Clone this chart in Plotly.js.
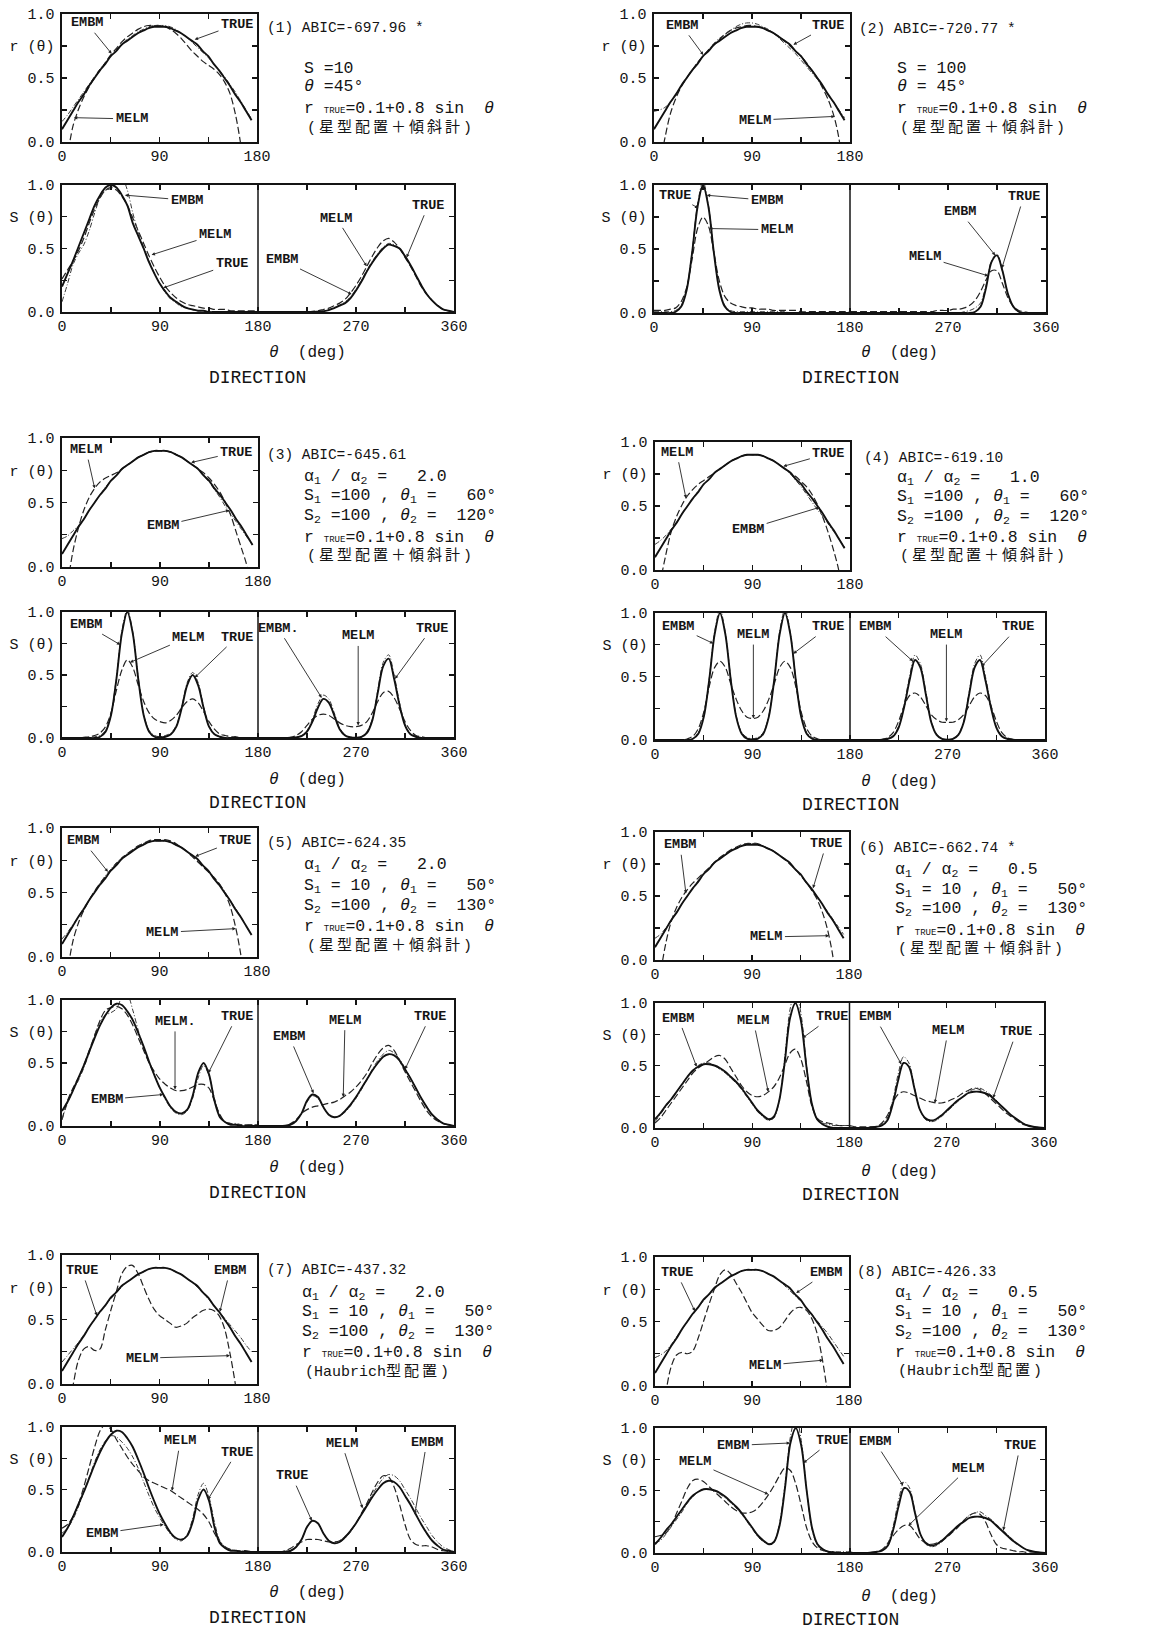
<!DOCTYPE html>
<html>
<head>
<meta charset="utf-8">
<script src="https://cdn.plot.ly/plotly-3.0.1.min.js"></script>
<style>
  html, body { margin: 0; padding: 0; background: #fff; }
  #chart { width: 1159px; height: 1631px; }
</style>
</head>
<body>
<div id="chart"></div>
<script>
// ---------------------------------------------------------------
// Direction angle grids (deg)
// ---------------------------------------------------------------
const TH_R  = [0,5,10,15,20,25,30,35,40,45,50,55,60,65,70,75,80,85,90,95,100,105,110,115,120,125,130,135,140,145,150,155,160,165,170,175];
const TH_SL = [0,5,10,15,20,25,30,35,40,45,50,55,60,65,70,75,80,85,90,95,100,105,110,115,120,125,130,135,140,145,150,155,160,165,170,175,180];
const TH_SR = [180,185,190,195,200,205,210,215,220,225,230,235,240,245,250,255,260,265,270,275,280,285,290,295,300,305,310,315,320,325,330,335,340,345,350,355,360];

// ---------------------------------------------------------------
// Reflection coefficient r(theta)
// ---------------------------------------------------------------
const R_TRUE  = [0.10,0.17,0.24,0.31,0.37,0.44,0.50,0.56,0.61,0.67, 0.71,0.76,0.79,0.82,0.85,0.87,0.89,0.90,0.90,0.90, 0.89,0.87,0.85,0.82,0.79,0.76,0.71,0.67,0.61,0.56, 0.50,0.44,0.37,0.31,0.24,0.17];
const R1_EMBM = [0.16,0.21,0.27,0.33,0.39,0.45,0.51,0.57,0.62,0.67, 0.72,0.76,0.80,0.83,0.86,0.88,0.90,0.91,0.91,0.91, 0.90,0.88,0.85,0.82,0.78,0.74,0.70,0.66,0.61,0.56, 0.51,0.45,0.39,0.32,0.25,0.18];
const R1_MELM = [-0.45,-0.12,0.12,0.25,0.35,0.43,0.50,0.56,0.62,0.68, 0.73,0.78,0.82,0.85,0.88,0.90,0.91,0.91,0.91,0.90, 0.88,0.85,0.81,0.76,0.71,0.67,0.63,0.60,0.57,0.53, 0.47,0.38,0.22,-0.02,-0.4,-0.9];
const R2_EMBM = [0.24,0.25,0.27,0.31,0.37,0.44,0.50,0.56,0.62,0.67, 0.72,0.77,0.81,0.84,0.87,0.90,0.92,0.93,0.93,0.92, 0.90,0.88,0.85,0.81,0.77,0.73,0.69,0.64,0.59,0.54, 0.49,0.43,0.37,0.31,0.25,0.19];
const R2_MELM = [-0.4,-0.2,0.03,0.22,0.34,0.43,0.50,0.56,0.62,0.67, 0.72,0.76,0.80,0.84,0.87,0.89,0.90,0.91,0.91,0.90, 0.89,0.87,0.85,0.82,0.79,0.75,0.71,0.67,0.62,0.56, 0.50,0.42,0.33,0.21,0.02,-0.35];
const R3_EMBM = [0.22,0.24,0.28,0.32,0.37,0.44,0.50,0.56,0.62,0.67, 0.71,0.76,0.79,0.82,0.85,0.87,0.89,0.90,0.90,0.90, 0.89,0.87,0.85,0.82,0.79,0.76,0.71,0.66,0.60,0.54, 0.47,0.41,0.35,0.29,0.23,0.17];
const R3_MELM = [-0.5,-0.15,0.12,0.30,0.44,0.54,0.61,0.66,0.69,0.71, 0.73,0.76,0.79,0.82,0.85,0.87,0.89,0.90,0.90,0.90, 0.89,0.87,0.85,0.82,0.79,0.76,0.73,0.69,0.64,0.58, 0.50,0.40,0.27,0.14,0.0,-0.4];
const R4_EMBM = [0.20,0.23,0.27,0.32,0.37,0.44,0.50,0.56,0.62,0.67, 0.71,0.76,0.79,0.82,0.85,0.87,0.89,0.90,0.90,0.90, 0.89,0.87,0.85,0.82,0.79,0.75,0.70,0.65,0.59,0.53, 0.47,0.42,0.36,0.30,0.24,0.18];
const R4_MELM = [-0.5,-0.1,0.12,0.30,0.42,0.51,0.58,0.63,0.67,0.70, 0.73,0.76,0.79,0.82,0.85,0.87,0.89,0.90,0.90,0.90, 0.89,0.87,0.85,0.82,0.79,0.76,0.73,0.69,0.65,0.59, 0.51,0.41,0.29,0.15,-0.02,-0.4];
const R5_EMBM = [0.14,0.19,0.25,0.31,0.38,0.44,0.51,0.57,0.63,0.68, 0.73,0.77,0.80,0.83,0.86,0.88,0.89,0.90,0.90,0.90, 0.89,0.87,0.85,0.82,0.79,0.75,0.71,0.67,0.62,0.57, 0.51,0.44,0.38,0.31,0.24,0.17];
const R5_MELM = [-0.45,-0.12,0.12,0.26,0.36,0.44,0.51,0.57,0.62,0.67, 0.72,0.76,0.80,0.83,0.86,0.88,0.90,0.91,0.91,0.91, 0.90,0.88,0.85,0.82,0.78,0.74,0.70,0.66,0.62,0.57, 0.50,0.40,0.24,0.02,-0.35,-0.8];
const R6_EMBM = [0.17,0.20,0.25,0.31,0.37,0.44,0.50,0.56,0.62,0.67, 0.71,0.76,0.79,0.82,0.85,0.87,0.89,0.91,0.91,0.91, 0.89,0.87,0.85,0.82,0.79,0.76,0.71,0.67,0.61,0.56, 0.50,0.44,0.38,0.32,0.26,0.20];
const R6_MELM = [-0.55,-0.12,0.13,0.30,0.41,0.49,0.55,0.60,0.64,0.68, 0.72,0.76,0.80,0.83,0.86,0.88,0.90,0.91,0.91,0.91, 0.89,0.87,0.85,0.82,0.79,0.75,0.71,0.66,0.61,0.55, 0.48,0.38,0.24,0.03,-0.35,-0.8];
const R7_EMBM = [0.17,0.22,0.27,0.32,0.38,0.44,0.50,0.56,0.61,0.66, 0.71,0.75,0.79,0.82,0.85,0.87,0.89,0.90,0.90,0.90, 0.89,0.87,0.85,0.82,0.79,0.75,0.71,0.66,0.61,0.56, 0.51,0.46,0.41,0.36,0.30,0.25];
const R7_MELM = [-0.5,-0.25,-0.02,0.18,0.27,0.29,0.26,0.27,0.42,0.57, 0.71,0.85,0.91,0.92,0.86,0.76,0.66,0.58,0.53,0.50, 0.47,0.44,0.45,0.47,0.51,0.54,0.57,0.58,0.57,0.53, 0.43,0.24,0.0,-0.3,-0.6,-0.9];
const R8_EMBM = [0.22,0.24,0.27,0.32,0.38,0.44,0.50,0.56,0.61,0.66, 0.71,0.75,0.79,0.82,0.85,0.87,0.89,0.90,0.90,0.90, 0.89,0.87,0.85,0.82,0.78,0.74,0.70,0.66,0.61,0.56, 0.51,0.46,0.41,0.35,0.29,0.23];
const R8_MELM = [-0.6,-0.3,-0.05,0.15,0.24,0.26,0.25,0.27,0.37,0.50, 0.63,0.75,0.86,0.90,0.87,0.80,0.73,0.65,0.57,0.52, 0.47,0.43,0.43,0.45,0.50,0.56,0.60,0.61,0.59,0.53, 0.42,0.22,-0.05,-0.4,-0.7,-1.0];

// ---------------------------------------------------------------
// Directional spectrum S(theta): _L = 0..180 deg, _R = 180..360 deg
// ---------------------------------------------------------------
const S1_TRUE_L = [0.20,0.30,0.40,0.51,0.62,0.73,0.84,0.92,0.98,1.00, 0.98,0.92,0.84,0.70,0.60,0.50,0.39,0.30,0.22,0.16, 0.11,0.08,0.05,0.03,0.02,0.01,0.01,0,0,0, 0,0,0,0,0,0,0];
const S1_TRUE_R = [0,0,0,0,0,0,0,0,0,0, 0,0.003,0.006,0.015,0.03,0.05,0.07,0.11,0.17,0.24, 0.32,0.39,0.45,0.50,0.53,0.52,0.50,0.44,0.37,0.29, 0.21,0.14,0.09,0.05,0.02,0.01,0];
const S1_EMBM_L = [0.08,0.22,0.37,0.46,0.53,0.64,0.78,0.90,0.96,0.97, 1.01,1.06,0.96,0.78,0.63,0.51,0.40,0.30,0.22,0.15, 0.10,0.07,0.04,0.03,0.02,0.01,0.01,0,0,0, 0,0,0,0,0,0,0];
const S1_EMBM_R = [0,0,0,0,0,0,0,0,0,0, 0,0.004,0.008,0.02,0.035,0.055,0.08,0.12,0.18,0.25, 0.33,0.40,0.46,0.51,0.54,0.53,0.50,0.44,0.37,0.29, 0.21,0.14,0.09,0.05,0.02,0.01,0];
const S1_MELM_L = [0.26,0.33,0.40,0.48,0.58,0.70,0.81,0.90,0.96,0.98, 0.96,0.91,0.84,0.74,0.64,0.54,0.44,0.35,0.27,0.20, 0.15,0.11,0.08,0.06,0.05,0.04,0.03,0.03,0.02,0.02, 0.02,0.01,0.01,0.01,0.01,0.01,0.01];
const S1_MELM_R = [0,0,0,0,0,0,0,0,0,0, 0.005,0.01,0.02,0.03,0.05,0.07,0.10,0.15,0.21,0.28, 0.36,0.44,0.51,0.56,0.58,0.55,0.50,0.43,0.36,0.28, 0.20,0.14,0.09,0.05,0.02,0.01,0];

const S2_TRUE_L = [0,0,0,0,0.01,0.05,0.18,0.47,0.83,1.00, 0.83,0.47,0.18,0.05,0.01,0,0,0,0,0, 0,0,0,0,0,0,0,0,0,0, 0,0,0,0,0,0,0];
const S2_TRUE_R = [0,0,0,0,0,0,0,0,0,0, 0,0,0,0,0,0,0,0,0,0, 0,0,0,0.01,0.05,0.20,0.40,0.45,0.33,0.15, 0.05,0.01,0,0,0,0,0];
const S2_EMBM_L = [0.01,0.01,0.01,0.01,0.02,0.06,0.19,0.48,0.85,1.03, 0.84,0.48,0.19,0.06,0.02,0.01,0.01,0.01,0.01,0.01, 0.01,0.01,0.01,0.01,0.01,0,0,0,0,0, 0,0,0,0,0,0,0];
const S2_EMBM_R = [0,0,0,0,0,0,0,0,0,0, 0,0,0,0,0,0,0,0,0,0, 0,0.01,0.02,0.04,0.08,0.22,0.41,0.46,0.33,0.15, 0.05,0.01,0,0,0,0,0];
const S2_MELM_L = [0.02,0.02,0.02,0.03,0.04,0.09,0.20,0.42,0.66,0.75, 0.68,0.47,0.25,0.13,0.08,0.06,0.05,0.04,0.04,0.03, 0.03,0.03,0.02,0.02,0.02,0.02,0.02,0.01,0.01,0.01, 0.01,0.01,0.01,0.01,0.01,0.01,0.01];
const S2_MELM_R = [0.01,0.01,0.01,0.01,0.01,0.01,0.01,0.01,0.01,0.01, 0.01,0.01,0.01,0.01,0.01,0.01,0.02,0.02,0.02,0.03, 0.03,0.04,0.06,0.10,0.17,0.26,0.33,0.33,0.23,0.12, 0.05,0.02,0.01,0,0,0,0];

const S3_TRUE_L = [0,0,0,0,0,0,0,0.01,0.05,0.18, 0.47,0.83,1.00,0.83,0.47,0.18,0.05,0.01,0.005,0.01, 0.03,0.09,0.24,0.42,0.50,0.42,0.24,0.09,0.03,0.01, 0,0,0,0,0,0,0];
const S3_TRUE_R = [0,0,0,0,0,0,0.002,0.005,0.015,0.05, 0.13,0.24,0.31,0.28,0.18,0.07,0.02,0.004,0.002,0.008, 0.04,0.14,0.36,0.57,0.63,0.47,0.26,0.10,0.03,0.01, 0,0,0,0,0,0,0];
const S3_EMBM_L = [0,0,0,0,0,0.005,0.01,0.02,0.06,0.19, 0.48,0.85,1.02,0.84,0.48,0.19,0.06,0.02,0.01,0.02, 0.04,0.10,0.25,0.44,0.52,0.44,0.25,0.10,0.03,0.01, 0,0,0,0,0,0,0];
const S3_EMBM_R = [0,0,0,0,0,0,0.003,0.007,0.02,0.06, 0.15,0.27,0.34,0.31,0.20,0.08,0.025,0.008,0.004,0.01, 0.05,0.15,0.38,0.60,0.66,0.50,0.28,0.11,0.03,0.01, 0,0,0,0,0,0,0];
const S3_MELM_L = [0,0,0,0,0.005,0.01,0.02,0.04,0.09,0.20, 0.38,0.54,0.62,0.56,0.42,0.29,0.20,0.15,0.13,0.12, 0.14,0.18,0.24,0.29,0.31,0.28,0.21,0.13,0.07,0.03, 0.02,0.01,0.01,0,0,0,0];
const S3_MELM_R = [0,0,0,0,0,0,0.005,0.02,0.05,0.10, 0.15,0.18,0.19,0.18,0.15,0.12,0.10,0.09,0.09,0.10, 0.13,0.20,0.29,0.36,0.37,0.32,0.23,0.13,0.06,0.02, 0.01,0,0,0,0,0,0];

const S4_TRUE_L = [0,0,0,0,0,0,0,0.01,0.05,0.18, 0.47,0.83,1.00,0.83,0.47,0.18,0.05,0.01,0.005,0.01, 0.05,0.18,0.47,0.83,1.00,0.83,0.47,0.18,0.05,0.01, 0,0,0,0,0,0,0];
const S4_TRUE_R = [0,0,0,0,0,0,0.003,0.01,0.03,0.10, 0.26,0.47,0.63,0.57,0.36,0.14,0.04,0.008,0.003,0.008, 0.04,0.14,0.36,0.57,0.63,0.47,0.26,0.10,0.03,0.01, 0.003,0,0,0,0,0,0];
const S4_EMBM_L = [0,0,0,0,0,0,0,0.01,0.06,0.19, 0.48,0.85,1.03,0.84,0.48,0.19,0.06,0.02,0.01,0.02, 0.06,0.19,0.48,0.85,1.03,0.84,0.48,0.19,0.06,0.02, 0,0,0,0,0,0,0];
const S4_EMBM_R = [0,0,0,0,0,0,0.003,0.01,0.035,0.11, 0.28,0.50,0.67,0.60,0.38,0.15,0.045,0.01,0.004,0.01, 0.045,0.15,0.38,0.60,0.67,0.50,0.28,0.11,0.035,0.01, 0.003,0,0,0,0,0,0];
const S4_MELM_L = [0,0,0,0,0,0,0.01,0.03,0.09,0.22, 0.42,0.57,0.62,0.57,0.44,0.32,0.23,0.18,0.17,0.18, 0.23,0.32,0.44,0.57,0.62,0.57,0.42,0.22,0.09,0.03, 0.01,0,0,0,0,0,0];
const S4_MELM_R = [0,0,0,0,0,0,0.005,0.02,0.06,0.15, 0.27,0.35,0.37,0.34,0.27,0.20,0.16,0.14,0.14,0.14, 0.16,0.20,0.27,0.34,0.37,0.35,0.27,0.15,0.06,0.02, 0.005,0,0,0,0,0,0];

// panels 5 and 7 share the same true spectrum, as do panels 6 and 8
const S5_TRUE_L = [0.12,0.19,0.28,0.38,0.48,0.59,0.70,0.80,0.88,0.94, 0.97,0.96,0.91,0.84,0.74,0.63,0.51,0.40,0.30,0.22, 0.15,0.11,0.10,0.13,0.24,0.42,0.50,0.41,0.20,0.07, 0.03,0.01,0.01,0,0,0,0];
const S5_TRUE_R = [0,0,0,0,0,0.003,0.01,0.04,0.10,0.20, 0.25,0.23,0.15,0.09,0.07,0.08,0.12,0.17,0.23,0.30, 0.37,0.44,0.50,0.55,0.57,0.56,0.52,0.45,0.38,0.30, 0.22,0.15,0.09,0.05,0.02,0.01,0];
const S5_EMBM_L = [0.05,0.18,0.28,0.36,0.46,0.58,0.72,0.83,0.88,0.90, 0.93,1.02,1.04,0.92,0.76,0.62,0.50,0.40,0.30,0.21, 0.14,0.10,0.09,0.12,0.22,0.38,0.48,0.40,0.22,0.08, 0.03,0.02,0.02,0.01,0.01,0.01,0.01];
const S5_EMBM_R = [0,0,0,0,0,0.003,0.01,0.04,0.10,0.19, 0.24,0.22,0.15,0.09,0.07,0.08,0.11,0.16,0.22,0.29, 0.37,0.45,0.52,0.57,0.60,0.58,0.53,0.46,0.38,0.30, 0.22,0.15,0.09,0.05,0.02,0.01,0];
const S5_MELM_L = [0.05,0.20,0.30,0.38,0.48,0.60,0.72,0.84,0.92,0.94, 0.95,0.93,0.88,0.80,0.70,0.60,0.50,0.43,0.37,0.33, 0.30,0.28,0.28,0.29,0.31,0.33,0.33,0.30,0.20,0.09, 0.03,0.02,0.01,0.01,0.01,0.01,0.01];
const S5_MELM_R = [0,0,0,0,0,0,0.02,0.05,0.10,0.13, 0.15,0.16,0.17,0.18,0.19,0.21,0.24,0.27,0.31,0.36, 0.42,0.50,0.57,0.62,0.64,0.60,0.52,0.43,0.35,0.27, 0.19,0.12,0.07,0.04,0.02,0.01,0];

const S6_TRUE_L = [0.07,0.12,0.18,0.23,0.29,0.35,0.41,0.46,0.49,0.51, 0.51,0.50,0.48,0.45,0.41,0.37,0.32,0.26,0.20,0.14, 0.10,0.07,0.09,0.22,0.52,0.88,1.00,0.86,0.50,0.20, 0.07,0.03,0.01,0,0,0,0];
const S6_TRUE_R = [0,0,0,0,0.005,0.01,0.02,0.06,0.19,0.38, 0.52,0.49,0.32,0.15,0.08,0.06,0.07,0.10,0.14,0.18, 0.22,0.25,0.28,0.29,0.29,0.28,0.26,0.22,0.18,0.14, 0.10,0.07,0.04,0.02,0.01,0.005,0];
const S6_EMBM_L = [0.05,0.11,0.17,0.23,0.29,0.35,0.41,0.46,0.50,0.52, 0.52,0.50,0.47,0.44,0.40,0.36,0.31,0.25,0.19,0.13, 0.09,0.06,0.08,0.22,0.56,0.95,1.10,0.92,0.52,0.20, 0.07,0.04,0.03,0.02,0.02,0.02,0.02];
const S6_EMBM_R = [0.01,0,0,0,0.005,0.01,0.03,0.08,0.22,0.43, 0.57,0.52,0.33,0.15,0.07,0.05,0.06,0.09,0.13,0.17, 0.21,0.25,0.29,0.31,0.32,0.30,0.27,0.23,0.18,0.14, 0.10,0.07,0.04,0.02,0.01,0.005,0];
const S6_MELM_L = [0.04,0.08,0.14,0.20,0.26,0.32,0.38,0.44,0.48,0.51, 0.54,0.57,0.58,0.55,0.48,0.41,0.34,0.29,0.26,0.25, 0.26,0.29,0.33,0.40,0.50,0.60,0.63,0.55,0.38,0.18, 0.08,0.05,0.04,0.03,0.02,0.02,0.02];
const S6_MELM_R = [0.02,0.01,0.01,0.01,0.01,0.01,0.04,0.10,0.20,0.27, 0.29,0.28,0.26,0.24,0.22,0.21,0.20,0.20,0.21,0.23, 0.25,0.28,0.30,0.32,0.31,0.28,0.24,0.20,0.16,0.12, 0.09,0.06,0.03,0.02,0.01,0,0];

const S7_EMBM_L = [0.15,0.19,0.26,0.36,0.48,0.60,0.72,0.82,0.89,0.93, 0.92,0.88,0.83,0.76,0.67,0.56,0.45,0.35,0.27,0.20, 0.14,0.10,0.09,0.14,0.27,0.46,0.55,0.44,0.24,0.09, 0.04,0.02,0.01,0.01,0,0,0];
const S7_EMBM_R = [0,0,0,0,0,0.003,0.01,0.04,0.10,0.20, 0.25,0.23,0.15,0.09,0.07,0.08,0.11,0.16,0.23,0.30, 0.38,0.46,0.53,0.59,0.62,0.61,0.57,0.50,0.43,0.35, 0.27,0.20,0.13,0.08,0.04,0.02,0];
const S7_MELM_L = [0.19,0.22,0.28,0.38,0.52,0.68,0.84,0.97,1.02,0.98, 0.90,0.83,0.76,0.70,0.65,0.60,0.57,0.55,0.53,0.51, 0.49,0.46,0.43,0.40,0.37,0.34,0.30,0.24,0.15,0.08, 0.04,0.02,0.01,0.01,0.01,0,0];
const S7_MELM_R = [0,0,0,0,0,0.01,0.03,0.06,0.08,0.10, 0.10,0.10,0.09,0.08,0.08,0.09,0.12,0.17,0.23,0.31, 0.39,0.48,0.56,0.61,0.60,0.52,0.38,0.22,0.10,0.06, 0.05,0.05,0.04,0.02,0.01,0.005,0];

const S8_EMBM_L = [0.08,0.10,0.15,0.21,0.27,0.33,0.40,0.45,0.49,0.51, 0.51,0.50,0.47,0.44,0.40,0.36,0.31,0.25,0.19,0.13, 0.09,0.07,0.09,0.24,0.55,0.93,1.10,0.90,0.50,0.19, 0.06,0.02,0.01,0.01,0.01,0.01,0.01];
const S8_EMBM_R = [0.01,0,0,0,0.005,0.01,0.03,0.08,0.22,0.43, 0.57,0.52,0.33,0.15,0.07,0.05,0.06,0.09,0.13,0.17, 0.22,0.26,0.30,0.32,0.33,0.30,0.27,0.23,0.19,0.15, 0.11,0.07,0.04,0.02,0.01,0.005,0];
const S8_MELM_L = [0.13,0.14,0.16,0.22,0.32,0.42,0.52,0.58,0.59,0.57, 0.53,0.49,0.45,0.41,0.37,0.34,0.32,0.32,0.33,0.36, 0.41,0.47,0.54,0.62,0.68,0.66,0.55,0.38,0.20,0.09, 0.04,0.02,0.01,0.01,0,0,0];
const S8_MELM_R = [0,0,0,0,0,0.01,0.03,0.08,0.14,0.19, 0.22,0.22,0.17,0.11,0.08,0.07,0.08,0.10,0.13,0.17, 0.21,0.26,0.30,0.32,0.31,0.25,0.15,0.07,0.04,0.03, 0.02,0.01,0.01,0,0,0,0];

// ---------------------------------------------------------------
// Tick labels and panel texts
// ---------------------------------------------------------------
const R_TICKVALS = [0,45,90,135,180];
const R_TICKTEXT = ['0','','90','','180'];
const S_TICKVALS = [0,45,90,135,180,225,270,315,360];
const S_TICKTEXT = ['0','','90','','180','','270','','360'];
const Y_TICKVALS = [0,0.25,0.5,0.75,1];

const HEADERS = ['(1) ABIC=-697.96 *','(2) ABIC=-720.77 *','(3) ABIC=-645.61','(4) ABIC=-619.10',
                 '(5) ABIC=-624.35','(6) ABIC=-662.74 *','(7) ABIC=-437.32','(8) ABIC=-426.33'];
const RTRUE_TXT = 'r <span style="font-size:9px">TRUE</span>=0.1+0.8 sin  <i>θ</i>';
const STAR_TXT = '(\u2009星\u2009型\u2009配\u2009置\u2009＋\u2009傾\u2009斜\u2009計\u2009)';
const HAUB_TXT = '(Haubrich型\u2009配\u2009置\u2009)';
const SL_A = 'S<sub>1</sub> =100 , <i>θ</i><sub>1</sub> =   60°';
const SL_B = 'S<sub>2</sub> =100 , <i>θ</i><sub>2</sub> =  120°';
const SL_C = 'S<sub>1</sub> = 10 , <i>θ</i><sub>1</sub> =   50°';
const SL_D = 'S<sub>2</sub> =100 , <i>θ</i><sub>2</sub> =  130°';
const ratio = v => 'α<sub>1</sub> / α<sub>2</sub> =   ' + v;
const PARAMS = [
  ['S =10', '<i>θ</i> =45°', RTRUE_TXT, STAR_TXT],
  ['S = 100', '<i>θ</i> = 45°', RTRUE_TXT, STAR_TXT],
  [ratio('2.0'), SL_A, SL_B, RTRUE_TXT, STAR_TXT],
  [ratio('1.0'), SL_A, SL_B, RTRUE_TXT, STAR_TXT],
  [ratio('2.0'), SL_C, SL_D, RTRUE_TXT, STAR_TXT],
  [ratio('0.5'), SL_C, SL_D, RTRUE_TXT, STAR_TXT],
  [ratio('2.0'), SL_C, SL_D, RTRUE_TXT, HAUB_TXT],
  [ratio('0.5'), SL_C, SL_D, RTRUE_TXT, HAUB_TXT]
];

// curve labels: [text, tip theta, tip value, label theta, label value]
const R_LABELS = [
  [['EMBM',45.8,0.69,22.7,0.93],['TRUE',122.5,0.80,161.5,0.92],['MELM',11,0.19,64.2,0.18]],
  [['EMBM',45.3,0.68,25.4,0.91],['TRUE',128,0.76,160,0.91],['MELM',166,0.20,92.7,0.17]],
  [['MELM',30,0.61,22,0.91],['TRUE',118.6,0.81,160,0.89],['EMBM',153.7,0.44,92.7,0.32]],
  [['MELM',28.6,0.56,20,0.92],['TRUE',118.5,0.81,160,0.91],['EMBM',152,0.49,86,0.32]],
  [['EMBM',42.4,0.66,19.5,0.90],['TRUE',123,0.78,160,0.90],['MELM',160.4,0.22,92.7,0.19]],
  [['EMBM',28.7,0.52,23.2,0.90],['TRUE',146.6,0.56,159,0.91],['MELM',161.5,0.19,103.4,0.18]],
  [['TRUE',32.2,0.53,18.4,0.88],['EMBM',145.7,0.56,155,0.88],['MELM',155,0.22,73.6,0.20]],
  [['TRUE',37,0.58,20,0.88],['EMBM',131,0.72,159,0.88],['MELM',156,0.20,102,0.16]]
];
const S_LABELS = [
  [['EMBM',57.8,0.92,114.5,0.88],['MELM',82.3,0.45,140.5,0.61],['TRUE',93,0.19,155.8,0.38],
   ['EMBM',266,0.14,201.7,0.41],['MELM',279.8,0.36,252,0.74],['TRUE',316.5,0.43,336.4,0.84]],
  [['TRUE',40.7,0.82,19.3,0.92],['EMBM',48.5,0.92,103.6,0.88],['MELM',50.5,0.66,112.7,0.65],
   ['TRUE',319.5,0.35,339.5,0.91],['EMBM',313.4,0.45,281.2,0.79],['MELM',307,0.29,249,0.44]],
  [['EMBM',53.5,0.74,22,0.90],['MELM',62.4,0.60,116,0.80],['TRUE',122,0.48,160.4,0.80],
   ['EMBM.',238.4,0.32,198.6,0.87],['MELM',272,0.10,272,0.81],['TRUE',305.8,0.47,339.5,0.87]],
  [['EMBM',53.8,0.76,21.5,0.89],['MELM',90.8,0.17,90.8,0.83],['TRUE',127.7,0.68,160,0.89],
   ['EMBM',238,0.62,203,0.89],['MELM',269,0.145,269,0.83],['TRUE',301.5,0.58,335,0.89]],
  [['MELM.',103.8,0.29,103.8,0.83],['TRUE',134.4,0.42,160.4,0.87],['EMBM',93,0.25,41,0.21],
   ['EMBM',231,0.26,208.8,0.71],['MELM',258.3,0.23,259.9,0.84],['TRUE',315,0.45,338,0.87]],
  [['EMBM',38.5,0.49,21.6,0.88],['MELM',104.8,0.29,91,0.86],['TRUE',136.6,0.72,163.4,0.89],
   ['EMBM',228,0.51,203.5,0.89],['MELM',259,0.20,271.3,0.78],['TRUE',312.9,0.24,334.5,0.77]],
  [['MELM',101,0.49,108.6,0.89],['TRUE',134,0.42,160.6,0.80],['EMBM',93.3,0.22,36.7,0.15],
   ['TRUE',229.4,0.25,211,0.61],['MELM',276,0.35,256.9,0.87],['EMBM',324,0.30,334.9,0.88]],
  [['EMBM',124.6,0.88,72.3,0.86],['TRUE',137,0.72,163,0.90],['MELM',104.6,0.47,37,0.73],
   ['EMBM',229,0.54,203,0.89],['MELM',234,0.22,289,0.68],['TRUE',321.5,0.18,337,0.86]]
];

const PANEL_DATA = [
  {rE:R1_EMBM, rM:R1_MELM, sT:[S1_TRUE_L,S1_TRUE_R], sE:[S1_EMBM_L,S1_EMBM_R], sM:[S1_MELM_L,S1_MELM_R]},
  {rE:R2_EMBM, rM:R2_MELM, sT:[S2_TRUE_L,S2_TRUE_R], sE:[S2_EMBM_L,S2_EMBM_R], sM:[S2_MELM_L,S2_MELM_R]},
  {rE:R3_EMBM, rM:R3_MELM, sT:[S3_TRUE_L,S3_TRUE_R], sE:[S3_EMBM_L,S3_EMBM_R], sM:[S3_MELM_L,S3_MELM_R]},
  {rE:R4_EMBM, rM:R4_MELM, sT:[S4_TRUE_L,S4_TRUE_R], sE:[S4_EMBM_L,S4_EMBM_R], sM:[S4_MELM_L,S4_MELM_R]},
  {rE:R5_EMBM, rM:R5_MELM, sT:[S5_TRUE_L,S5_TRUE_R], sE:[S5_EMBM_L,S5_EMBM_R], sM:[S5_MELM_L,S5_MELM_R]},
  {rE:R6_EMBM, rM:R6_MELM, sT:[S6_TRUE_L,S6_TRUE_R], sE:[S6_EMBM_L,S6_EMBM_R], sM:[S6_MELM_L,S6_MELM_R]},
  {rE:R7_EMBM, rM:R7_MELM, sT:[S5_TRUE_L,S5_TRUE_R], sE:[S7_EMBM_L,S7_EMBM_R], sM:[S7_MELM_L,S7_MELM_R]},
  {rE:R8_EMBM, rM:R8_MELM, sT:[S6_TRUE_L,S6_TRUE_R], sE:[S8_EMBM_L,S8_EMBM_R], sM:[S8_MELM_L,S8_MELM_R]}
];

// ---------------------------------------------------------------
// Page geometry (pixels): frame boxes [left, right, top, bottom]
// ---------------------------------------------------------------
const W = 1159, H = 1631;
const FRAMES = [
  {r:[62,257,14,142],   s:[62,454,185,312]},
  {r:[654,850,14,142],  s:[654,1046,185,313]},
  {r:[62,258,438,567],  s:[62,454,612,738]},
  {r:[655,850,442,570], s:[655,1045,613,740]},
  {r:[62,257,828,957],  s:[62,454,1000,1126]},
  {r:[655,849,832,960], s:[655,1044,1003,1128]},
  {r:[62,257,1255,1384],s:[62,454,1427,1552]},
  {r:[655,849,1257,1386],s:[655,1045,1428,1553]}
];
// text block positions: header [x,y], parameter x, parameter line ys
const TEXT_POS = [
  {h:[265,28],  px:302, ys:[68,87,108,128]},
  {h:[857,29],  px:895, ys:[68,87,108,128]},
  {h:[265,455], px:302, ys:[477,496,516,537,556]},
  {h:[862,458], px:895, ys:[478,497,517,537,556]},
  {h:[265,843], px:302, ys:[865,886,906,927,946]},
  {h:[857,848], px:893, ys:[870,890,909,930,949]},
  {h:[265,1270],px:300, ys:[1293,1312,1332,1352,1372]},
  {h:[855,1272],px:893, ys:[1293,1312,1332,1352,1371]}
];
// axis caption positions: [theta(deg) x, y, DIRECTION x, y]
const CAPTION_POS = [
  [307,353,257,378],[899,353,850,378],
  [307,780,257,803],[899,782,850,805],
  [307,1168,257,1193],[899,1172,850,1195],
  [307,1593,257,1618],[899,1597,850,1620]
];

const MONO = 'Liberation Mono, DejaVu Sans Mono, Noto Sans CJK JP, monospace';
const INK = '#141414';
const STYLE = {
  TRUE: {color:'#111', width:1.9, shape:'spline', smoothing:0.9},
  EMBM: {color:'#3a3a3a', width:1.0, dash:'5px,2px,1px,2px', shape:'spline', smoothing:0.9},
  MELM: {color:'#222', width:1.2, dash:'7px,3px', shape:'spline', smoothing:0.9}
};

const sfx = k => (k === 1 ? '' : String(k));
const px2x = v => v / W;
const px2y = v => 1 - v / H;
// keep runs of spaces outside of tags
const keepSpaces = s => s.replace(/ (?![^<]*>)/g, '\u00a0');

const axisCommon = {
  showline: true, linecolor: INK, linewidth: 1.6, mirror: 'allticks',
  ticks: 'inside', ticklen: 5, tickwidth: 1.2, tickcolor: INK,
  showgrid: false, zeroline: false, fixedrange: true,
  tickfont: {family: MONO, size: 15, color: INK}
};

const traces = [];
const annotations = [];
const shapes = [];
const layout = {
  width: W, height: H,
  margin: {l: 0, r: 0, t: 0, b: 0},
  paper_bgcolor: '#fff', plot_bgcolor: '#fff',
  showlegend: false,
  font: {family: MONO, color: INK}
};

function addAxes(k, box, xrange, tv, tt, ylabel) {
  layout['xaxis' + sfx(k)] = Object.assign({}, axisCommon, {
    domain: [px2x(box[0]), px2x(box[1])], range: xrange,
    anchor: 'y' + sfx(k), tickvals: tv, ticktext: tt, ticklabelstandoff: -1
  });
  layout['yaxis' + sfx(k)] = Object.assign({}, axisCommon, {
    domain: [px2y(box[3]), px2y(box[2])], range: [0, 1],
    anchor: 'x' + sfx(k), tickvals: Y_TICKVALS,
    ticktext: ['0.0', '', '0.5', ylabel, '1.0'], ticklabelstandoff: 3
  });
}

function addLine(k, xs, ys, style) {
  traces.push({
    type: 'scatter', mode: 'lines', x: xs, y: ys,
    xaxis: 'x' + sfx(k), yaxis: 'y' + sfx(k),
    line: style, hoverinfo: 'skip'
  });
}

function addLabels(k, list) {
  list.forEach(([txt, tx, ty, lx, ly]) => {
    annotations.push({
      xref: 'x' + sfx(k), yref: 'y' + sfx(k), axref: 'x' + sfx(k), ayref: 'y' + sfx(k),
      x: tx, y: ty, ax: lx, ay: ly, text: '<b>' + txt + '</b>',
      showarrow: true, arrowhead: 2, arrowsize: 0.75, arrowwidth: 0.9,
      arrowcolor: '#222', standoff: 0, startstandoff: 1,
      font: {family: MONO, size: 13.5, color: INK}
    });
  });
}

function addText(x, y, text, size, anchor) {
  annotations.push({
    xref: 'paper', yref: 'paper', x: px2x(x), y: px2y(y),
    xanchor: anchor || 'left', yanchor: 'middle', align: 'left',
    showarrow: false, text: keepSpaces(text),
    font: {family: MONO, size: size, color: INK}
  });
}

FRAMES.forEach((f, p) => {
  const d = PANEL_DATA[p];
  const kr = 2 * p + 1, ks = 2 * p + 2;

  // r(theta) frame
  addAxes(kr, f.r, [0, 180], R_TICKVALS, R_TICKTEXT, 'r (θ)');
  addLine(kr, TH_R, d.rM, STYLE.MELM);
  addLine(kr, TH_R, d.rE, STYLE.EMBM);
  addLine(kr, TH_R, R_TRUE, STYLE.TRUE);
  addLabels(kr, R_LABELS[p]);

  // S(theta) frame, split at 180 deg
  addAxes(ks, f.s, [0, 360], S_TICKVALS, S_TICKTEXT, 'S (θ)');
  [0, 1].forEach(h => {
    const xs = h === 0 ? TH_SL : TH_SR;
    addLine(ks, xs, d.sM[h], STYLE.MELM);
    addLine(ks, xs, d.sE[h], STYLE.EMBM);
    addLine(ks, xs, d.sT[h], STYLE.TRUE);
  });
  shapes.push({
    type: 'line', xref: 'x' + sfx(ks), yref: 'y' + sfx(ks) + ' domain',
    x0: 180, x1: 180, y0: 0, y1: 1, line: {color: INK, width: 1.5}
  });
  addLabels(ks, S_LABELS[p]);

  // texts beside the r(theta) frame
  const tp = TEXT_POS[p];
  addText(tp.h[0], tp.h[1], HEADERS[p], 14.5);
  PARAMS[p].forEach((line, i) => {
    const last = i === PARAMS[p].length - 1;
    addText(tp.px + (last ? 3 : 0), tp.ys[i], line, last ? 15 : 16.5);
  });

  // axis captions
  const c = CAPTION_POS[p];
  addText(c[0], c[1], '<i>θ</i>  (deg)', 16, 'center');
  addText(c[2], c[3], 'DIRECTION', 18, 'center');
});

layout.annotations = annotations;
layout.shapes = shapes;

Plotly.newPlot('chart', traces, layout, {displayModeBar: false, staticPlot: true});
</script>
</body>
</html>
